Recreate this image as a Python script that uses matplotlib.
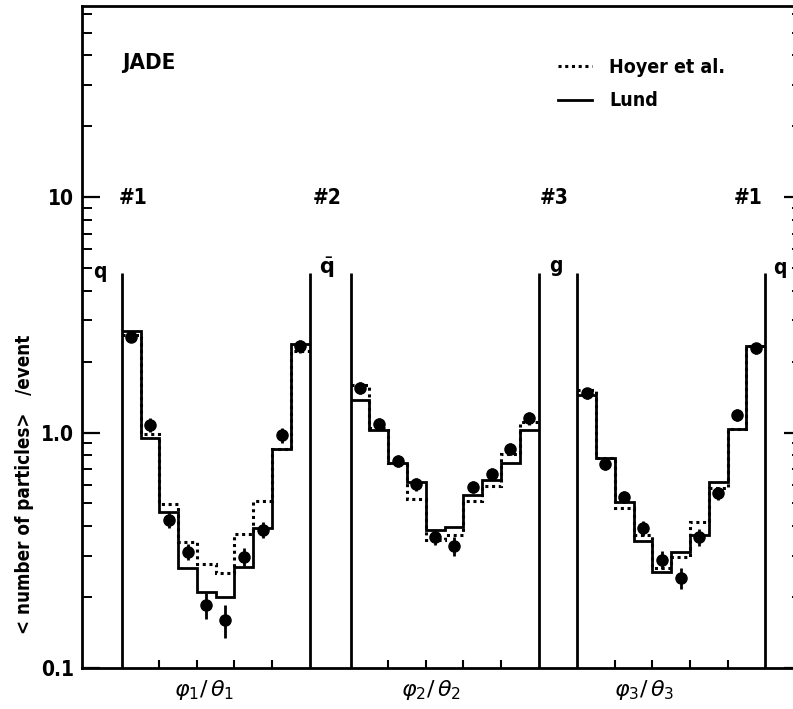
import numpy as np
import matplotlib
matplotlib.use("Agg")
import matplotlib.pyplot as plt
from matplotlib.lines import Line2D
from matplotlib.ticker import FixedLocator, NullFormatter, LogLocator
from matplotlib import font_manager as fm

# ---------------- data ----------------
xlabels = [r"$\varphi_1/\,\theta_1$", r"$\varphi_2/\,\theta_2$", r"$\varphi_3/\,\theta_3$"]
jet_labels = ["q", r"$\bar{\mathbf{q}}$", "g", "q"]
jet_numbers = ["#1", "#2", "#3", "#1"]

lund_1 = [2.70, 0.95, 0.458, 0.265, 0.211, 0.201, 0.268, 0.395, 0.851, 2.38]
hoyer_1 = [2.60, 0.99, 0.495, 0.343, 0.276, 0.252, 0.371, 0.513, 0.851, 2.22]
data_1 = [2.54, 1.08, 0.425, 0.312, 0.185, 0.160, 0.297, 0.386, 0.975, 2.33]
err_1 = [0.12, 0.07, 0.03, 0.025, 0.024, 0.026, 0.025, 0.03, 0.07, 0.15]

lund_2 = [1.38, 1.03, 0.746, 0.615, 0.386, 0.398, 0.541, 0.628, 0.746, 1.03]
hoyer_2 = [1.59, 1.05, 0.746, 0.52, 0.35, 0.367, 0.513, 0.593, 0.807, 1.11]
data_2 = [1.55, 1.09, 0.758, 0.604, 0.359, 0.330, 0.589, 0.667, 0.851, 1.15]
err_2 = [0.09, 0.06, 0.045, 0.04, 0.025, 0.03, 0.035, 0.04, 0.05, 0.07]

lund_3 = [1.44, 0.776, 0.508, 0.346, 0.256, 0.312, 0.367, 0.618, 1.04, 2.33]
hoyer_3 = [1.52, 0.776, 0.477, 0.367, 0.265, 0.295, 0.416, 0.58, 1.04, 2.33]
data_3 = [1.47, 0.734, 0.534, 0.392, 0.288, 0.242, 0.361, 0.552, 1.19, 2.28]
err_3 = [0.08, 0.04, 0.03, 0.03, 0.025, 0.025, 0.03, 0.035, 0.07, 0.12]

lund = [lund_1, lund_2, lund_3]
hoyer = [hoyer_1, hoyer_2, hoyer_3]
data = [data_1, data_2, data_3]
errs = [err_1, err_2, err_3]

# ---------------- layout ----------------
W, H = 793, 709
plt.rcParams["font.family"] = ["DejaVu Sans"]
plt.rcParams["mathtext.fontset"] = "dejavusans"

cond = fm.FontProperties(family="DejaVu Sans", weight="bold", stretch="condensed")
cond_file = fm.findfont(cond)
FP = lambda size: fm.FontProperties(fname=cond_file, size=size)

fig = plt.figure(figsize=(W / 100, H / 100), dpi=100)
ax_left, ax_right, ax_top, ax_bot = 82, 802, 6, 668
ax = fig.add_axes([ax_left / W, 1 - ax_bot / H, (ax_right - ax_left) / W, (ax_bot - ax_top) / H])

def fx(px):
    return px / W

def fy(py):
    return 1 - py / H

binw = 18.8
starts = [121.7 - ax_left, 350.7 - ax_left, 577.3 - ax_left]
ymin, ymax = 0.1, 64.8
line_top = 4.75

ax.set_yscale("log")
ax.set_xlim(0, ax_right - ax_left)
ax.set_ylim(ymin, ymax)

for i in range(3):
    edges = starts[i] + np.arange(11) * binw
    centers = 0.5 * (edges[:-1] + edges[1:])
    ax.stairs(hoyer[i], edges, baseline=None, color="k", lw=2.2, linestyle=(0, (1, 1.2)))
    ax.stairs(lund[i], edges, baseline=None, color="k", lw=2.0)
    ax.errorbar(centers, data[i], yerr=errs[i], fmt="o", color="k", ms=8,
                elinewidth=2.0, capsize=0, zorder=5)
    ax.vlines([edges[0], edges[-1]], ymin, line_top, color="k", lw=2.0)

bottom_ticks = []
for s in starts:
    bottom_ticks += list(s + np.array([2, 4, 6, 8]) * binw)
ax.xaxis.set_major_locator(FixedLocator(bottom_ticks))
ax.xaxis.set_major_formatter(NullFormatter())
ax.tick_params(axis="x", direction="in", length=6, width=1.5, top=False)

ax.set_yticks([0.1, 1.0, 10])
ax.set_yticklabels(["0.1", "1.0", "10"])
ax.yaxis.set_minor_locator(LogLocator(base=10, subs=np.arange(2, 10)))
ax.yaxis.set_minor_formatter(NullFormatter())
ax.tick_params(axis="y", which="major", direction="in", length=13, width=1.6,
               right=True, pad=6)
ax.tick_params(axis="y", which="minor", direction="in", length=7, width=1.4, right=True)
for lab in ax.get_yticklabels():
    lab.set_fontproperties(FP(15))

for sp in ax.spines.values():
    sp.set_linewidth(2.0)

fig.text(fx(122), fy(63), "JADE", ha="left", va="center", fontproperties=FP(16))

num_x = [133, 327, 554, 748]
for x, t in zip(num_x, jet_numbers):
    fig.text(fx(x), fy(198), t, ha="center", va="center", fontproperties=FP(15))

lab_xy = [(100, 272), (327, 268), (556, 266), (780, 268)]
for (x, y), t in zip(lab_xy, jet_labels):
    fig.text(fx(x), fy(y), t, ha="center", va="center", fontproperties=FP(15))

lab_x = [204, 431, 644]
for x, t in zip(lab_x, xlabels):
    fig.text(fx(x), fy(690), t, ha="center", va="center", fontsize=16)

fig.text(fx(25), fy(484), "< number of particles>   /event", rotation=90,
         ha="center", va="center", fontproperties=FP(13.5))

handles = [Line2D([], [], color="k", lw=2.2, linestyle=(0, (1, 1.2))),
           Line2D([], [], color="k", lw=2.0)]
ax.legend(handles, ["Hoyer et al.", "Lund"], loc="upper left",
          bbox_to_anchor=(fx(550), fy(50)), bbox_transform=fig.transFigure,
          frameon=False, handlelength=1.75, handletextpad=0.9, labelspacing=0.75,
          prop=FP(14), borderaxespad=0)

fig.savefig("out.png", dpi=100)
